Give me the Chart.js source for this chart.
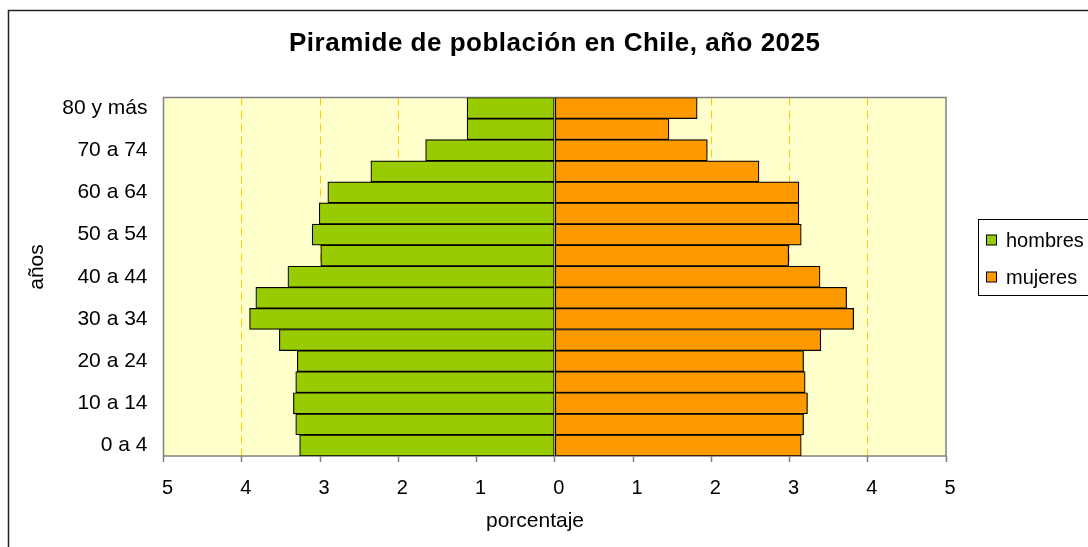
<!DOCTYPE html>
<html>
<head>
<meta charset="utf-8">
<script src="https://cdn.jsdelivr.net/npm/chart.js@4/dist/chart.umd.min.js"></script>
<style>
  html, body { margin: 0; padding: 0; background: #ffffff; }
  #wrap { width: 1088px; height: 547px; position: relative; }
</style>
</head>
<body>
<div id="wrap"><canvas id="piramide" width="1088" height="547"></canvas></div>
<script>
// Grupos de edad, de menor a mayor
const edades = ['0 a 4', '5 a 9', '10 a 14', '15 a 19', '20 a 24', '25 a 29', '30 a 34', '35 a 39',
  '40 a 44', '45 a 49', '50 a 54', '55 a 59', '60 a 64', '65 a 69', '70 a 74', '75 a 79', '80 y más'];

// Porcentaje de la población total por grupo de edad
const hombres = [3.26, 3.31, 3.34, 3.31, 3.29, 3.52, 3.90, 3.82, 3.41, 2.99, 3.10, 3.01, 2.90, 2.35, 1.65, 1.12, 1.12];
const mujeres = [3.15, 3.18, 3.23, 3.20, 3.18, 3.40, 3.82, 3.73, 3.39, 2.99, 3.15, 3.12, 3.12, 2.61, 1.95, 1.46, 1.82];

// Marcas del eje de porcentaje
const marcasPct = [-5, -4, -3, -2, -1, 0, 1, 2, 3, 4, 5];

const titulo = 'Piramide de población en Chile, año 2025';
const tituloEjeX = 'porcentaje';
const tituloEjeY = 'años';

const FUENTE = '"Liberation Sans", Arial, sans-serif';

// Fondo del área de trazado, marco del gráfico, títulos y leyenda
const decorado = {
  id: 'decorado',
  beforeDraw(chart) {
    const { ctx, chartArea: a } = chart;
    ctx.save();
    ctx.fillStyle = '#ffffcc';
    ctx.fillRect(a.left, a.top, a.right - a.left, a.bottom - a.top);
    ctx.restore();
  },
  beforeDatasetsDraw(chart) {
    const { ctx, chartArea: a } = chart;
    ctx.save();
    ctx.strokeStyle = '#808080';
    ctx.lineWidth = 1.5;
    ctx.strokeRect(a.left, a.top, a.right - a.left, a.bottom - a.top);
    ctx.restore();
  },
  afterDraw(chart) {
    const { ctx, chartArea: a } = chart;
    ctx.save();
    // marco exterior
    ctx.strokeStyle = '#222222';
    ctx.lineWidth = 1.5;
    ctx.strokeRect(8.5, 10.5, 1200, 1000);

    // título
    ctx.fillStyle = '#000000';
    ctx.font = 'bold 26px ' + FUENTE;
    ctx.letterSpacing = '0.5px';
    ctx.textAlign = 'center';
    ctx.textBaseline = 'middle';
    ctx.fillText(titulo, (a.left + a.right) / 2, 44);
    ctx.letterSpacing = '0px';

    // títulos de los ejes
    ctx.font = '21px ' + FUENTE;
    ctx.fillText(tituloEjeX, 535, 521);
    ctx.save();
    ctx.translate(37, 267);
    ctx.rotate(-Math.PI / 2);
    ctx.fillText(tituloEjeY, 0, 0);
    ctx.restore();

    // leyenda
    const lx = 978.5, ly = 219.5, lh = 76;
    ctx.fillStyle = '#ffffff';
    ctx.fillRect(lx, ly, 200, lh);
    ctx.strokeStyle = '#000000';
    ctx.lineWidth = 1;
    ctx.strokeRect(lx, ly, 200, lh);
    ctx.font = '20px ' + FUENTE;
    ctx.textAlign = 'left';
    chart.data.datasets.forEach((ds, i) => {
      const cy = 240 + i * 37;
      ctx.fillStyle = ds.backgroundColor;
      ctx.fillRect(986.5, cy - 5, 10, 10);
      ctx.strokeRect(986.5, cy - 5, 10, 10);
      ctx.fillStyle = '#000000';
      ctx.fillText(ds.label, 1006, cy + 1);
    });
    ctx.restore();
  }
};

new Chart(document.getElementById('piramide'), {
  type: 'bar',
  data: {
    labels: edades,
    datasets: [
      {
        label: 'hombres',
        data: hombres.map(v => -v),
        backgroundColor: '#99cc00',
        borderColor: '#000000',
        borderWidth: 1.2,
        borderSkipped: false
      },
      {
        label: 'mujeres',
        data: mujeres,
        backgroundColor: '#ff9900',
        borderColor: '#000000',
        borderWidth: 1.2,
        borderSkipped: false
      }
    ]
  },
  options: {
    indexAxis: 'y',
    responsive: false,
    animation: false,
    devicePixelRatio: 1,
    layout: { padding: { top: 97.5, right: 142, bottom: 0, left: 0 } },
    datasets: { bar: { barPercentage: 1, categoryPercentage: 1 } },
    plugins: {
      legend: { display: false },
      title: { display: false },
      tooltip: { enabled: false }
    },
    scales: {
      x: {
        stacked: true,
        min: -5,
        max: 5,
        afterBuildTicks(scale) {
          scale.ticks = marcasPct.map(v => ({ value: v }));
        },
        afterFit(scale) { scale.height = 91; },
        border: { display: false, dash: [8, 5] },
        grid: {
          color(ctx) {
            const v = ctx.tick ? ctx.tick.value : 0;
            return (v === 0 || Math.abs(v) === 5) ? 'rgba(0,0,0,0)' : '#ffcc00';
          },
          lineWidth: 1,
          tickColor: '#808080',
          tickLength: 6,
          tickWidth: 1.5,
          tickBorderDash: []
        },
        ticks: {
          color: '#000000',
          font: { family: FUENTE, size: 20 },
          padding: 14,
          labelOffset: 4,
          autoSkip: false,
          maxRotation: 0,
          callback: v => String(Math.abs(v))
        }
      },
      y: {
        stacked: true,
        reverse: true,
        afterFit(scale) { scale.width = 163.5; },
        border: { display: false },
        grid: { display: false, drawTicks: false },
        ticks: {
          color: '#000000',
          font: { family: FUENTE, size: 21 },
          padding: 16,
          autoSkip: false,
          callback(value, index) {
            return index % 2 === 0 ? edades[index] : '';
          }
        }
      }
    }
  },
  plugins: [decorado]
});
</script>
</body>
</html>
